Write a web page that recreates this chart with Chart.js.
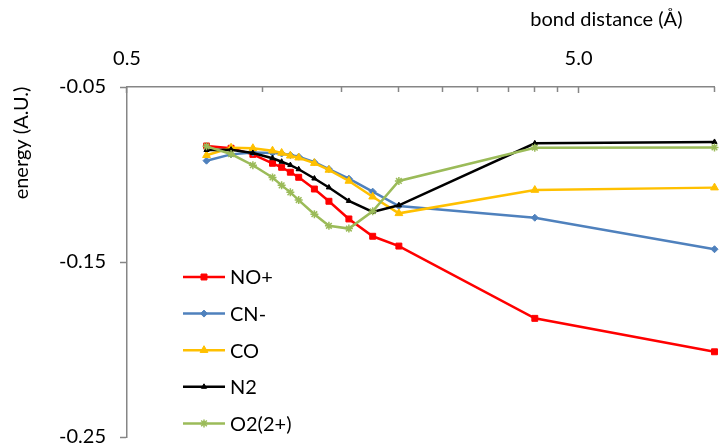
<!DOCTYPE html>
<html>
<head>
<meta charset="utf-8">
<script src="https://cdn.jsdelivr.net/npm/chart.js@4"></script>
<style>
  html, body { margin: 0; padding: 0; background: #fff; }
</style>
</head>
<body>
<canvas id="c" width="720" height="445"></canvas>
<script>
// Bond distance (Å) for every computed point
const bondDistance = [0.75, 0.85, 0.95, 1.05, 1.10, 1.15, 1.20, 1.30, 1.40, 1.55, 1.75, 2.0, 4.0, 10.0];

// Energies (A.U.) per molecule
const energyNOplus = [-0.0837, -0.0850, -0.0885, -0.0936, -0.0959, -0.0987, -0.1016, -0.1083, -0.1153, -0.1254, -0.1353, -0.1409, -0.1822, -0.2013];
const energyCNminus = [-0.0921, -0.0885, -0.0875, -0.0877, -0.0880, -0.0889, -0.0898, -0.0930, -0.0969, -0.1024, -0.1098, -0.1180, -0.1247, -0.1427];
const energyCO = [-0.0890, -0.0847, -0.0850, -0.0864, -0.0877, -0.0893, -0.0904, -0.0935, -0.0974, -0.1037, -0.1127, -0.1222, -0.1089, -0.1075];
const energyN2 = [-0.0860, -0.0858, -0.0877, -0.0907, -0.0927, -0.0946, -0.0970, -0.1023, -0.1074, -0.1151, -0.1214, -0.1176, -0.0822, -0.0814];
const energyO2 = [-0.0839, -0.0883, -0.0947, -0.1017, -0.1062, -0.1102, -0.1146, -0.1227, -0.1293, -0.1309, -0.1210, -0.1037, -0.0847, -0.0845];

const seriesNames = ['NO+', 'CN-', 'CO', 'N2', 'O2(2+)'];

// Axis ticks
const xTickValues = [0.5, 1, 1.5, 2, 2.5, 3, 3.5, 4, 4.5, 5, 10];
const xLabelledTicks = [0.5, 5];
const yTickValues = [-0.25, -0.15, -0.05];

const xTitle = 'bond distance (Å)';
const yTitle = 'energy (A.U.)';

const FONT = 'Lato, "Open Sans", sans-serif';
const FONT_SIZE = 20;
const AXIS_GREY = '#868686';

function pairs(ys) {
  return bondDistance.map((x, i) => ({ x: x, y: ys[i] }));
}

const styles = [
  { color: '#FF0000', pointStyle: 'rect', radius: 4.2, pbw: 1 },
  { color: '#4F81BD', pointStyle: 'rectRot', radius: 3.5, pbw: 1 },
  { color: '#FFC000', pointStyle: 'triangle', radius: 4.5, pbw: 1 },
  { color: '#000000', pointStyle: 'triangle', radius: 3, pbw: 1 },
  { color: '#9BBB59', pointStyle: 'star', radius: 4, pbw: 1.5 }
];
const seriesValues = [energyNOplus, energyCNminus, energyCO, energyN2, energyO2];

const datasets = seriesValues.map((vals, i) => ({
  label: seriesNames[i],
  data: pairs(vals),
  showLine: true,
  borderColor: styles[i].color,
  backgroundColor: styles[i].color,
  borderWidth: 2.5,
  pointStyle: styles[i].pointStyle,
  pointRadius: styles[i].radius,
  pointBorderWidth: styles[i].pbw,
  pointBackgroundColor: styles[i].color,
  pointBorderColor: styles[i].color,
  tension: 0,
  clip: false,
  order: seriesValues.length - i
}));

// Short tick marks pointing down into the plot from the top axis
const innerTicks = {
  id: 'innerTicks',
  afterDraw(chart) {
    const xs = chart.scales.x;
    const ctx = chart.ctx;
    ctx.save();
    ctx.strokeStyle = AXIS_GREY;
    ctx.lineWidth = 1.5;
    xTickValues.forEach(v => {
      const px = Math.round(xs.getPixelForValue(v)) - 0.5;
      const len = xLabelledTicks.includes(v) ? 6 : 5;
      ctx.beginPath();
      ctx.moveTo(px, chart.chartArea.top);
      ctx.lineTo(px, chart.chartArea.top + len);
      ctx.stroke();
    });
    ctx.restore();
  }
};

// Axis titles
const axisTitles = {
  id: 'axisTitles',
  afterDraw(chart) {
    const ctx = chart.ctx;
    const area = chart.chartArea;
    ctx.save();
    ctx.fillStyle = '#000';
    ctx.font = FONT_SIZE + 'px ' + FONT;
    ctx.textAlign = 'right';
    ctx.textBaseline = 'middle';
    ctx.fillText(xTitle, area.right - 32, 20);
    ctx.translate(22, area.top + 56);
    ctx.rotate(-Math.PI / 2);
    ctx.textAlign = 'center';
    ctx.fillText(yTitle, 0, 0);
    ctx.restore();
  }
};

// Legend inside the plot, lower left
const insideLegend = {
  id: 'insideLegend',
  afterDraw(chart) {
    const ctx = chart.ctx;
    const area = chart.chartArea;
    const x0 = area.left + 56;
    const lineLen = 42;
    const y0 = area.top + 190;
    const step = 36.6;
    ctx.save();
    ctx.font = FONT_SIZE + 'px ' + FONT;
    ctx.textBaseline = 'middle';
    ctx.textAlign = 'left';
    chart.data.datasets.forEach((ds, i) => {
      const y = y0 + i * step;
      ctx.strokeStyle = ds.borderColor;
      ctx.lineWidth = ds.borderWidth;
      ctx.beginPath();
      ctx.moveTo(x0, y);
      ctx.lineTo(x0 + lineLen, y);
      ctx.stroke();
      ctx.fillStyle = ds.pointBackgroundColor;
      ctx.strokeStyle = ds.pointBorderColor;
      ctx.lineWidth = ds.pointBorderWidth;
      Chart.helpers.drawPoint(ctx, {
        pointStyle: ds.pointStyle,
        radius: ds.pointRadius,
        borderWidth: ds.pointBorderWidth,
        rotation: 0
      }, x0 + lineLen / 2, y);
      ctx.fillStyle = '#000';
      ctx.fillText(ds.label, x0 + lineLen + 5, y + 1);
    });
    ctx.restore();
  }
};

new Chart(document.getElementById('c'), {
  type: 'scatter',
  data: { datasets: datasets },
  plugins: [innerTicks, axisTitles, insideLegend],
  options: {
    responsive: false,
    animation: false,
    layout: { padding: { left: 0, right: 0, top: 0, bottom: 8 } },
    plugins: {
      legend: { display: false },
      tooltip: { enabled: false }
    },
    scales: {
      x: {
        type: 'logarithmic',
        position: 'top',
        min: 0.5,
        max: 10,
        afterBuildTicks(scale) {
          scale.ticks = xTickValues.map(v => ({ value: v }));
        },
        afterFit(scale) {
          scale.height = 87;
          scale.paddingLeft = 0;
          scale.paddingRight = 0;
        },
        ticks: {
          autoSkip: false,
          maxRotation: 0,
          padding: 16,
          color: '#000',
          font: { family: FONT, size: FONT_SIZE },
          callback(v) {
            return xLabelledTicks.includes(v) ? v.toFixed(1) : '';
          }
        },
        grid: { drawOnChartArea: false, drawTicks: false },
        border: { display: true, color: AXIS_GREY, width: 1.5 }
      },
      y: {
        type: 'linear',
        min: -0.25,
        max: -0.05,
        afterBuildTicks(scale) {
          scale.ticks = yTickValues.map(v => ({ value: v }));
        },
        afterFit(scale) {
          scale.width = 127;
          scale.paddingTop = 0;
          scale.paddingBottom = 0;
        },
        ticks: {
          padding: 14,
          color: '#000',
          font: { family: FONT, size: FONT_SIZE },
          callback(v) { return v.toFixed(2); }
        },
        grid: { drawOnChartArea: false, drawTicks: true, tickLength: 7, tickColor: AXIS_GREY, tickWidth: 1.5 },
        border: { display: true, color: AXIS_GREY, width: 1.5 }
      }
    }
  }
});
</script>
</body>
</html>
